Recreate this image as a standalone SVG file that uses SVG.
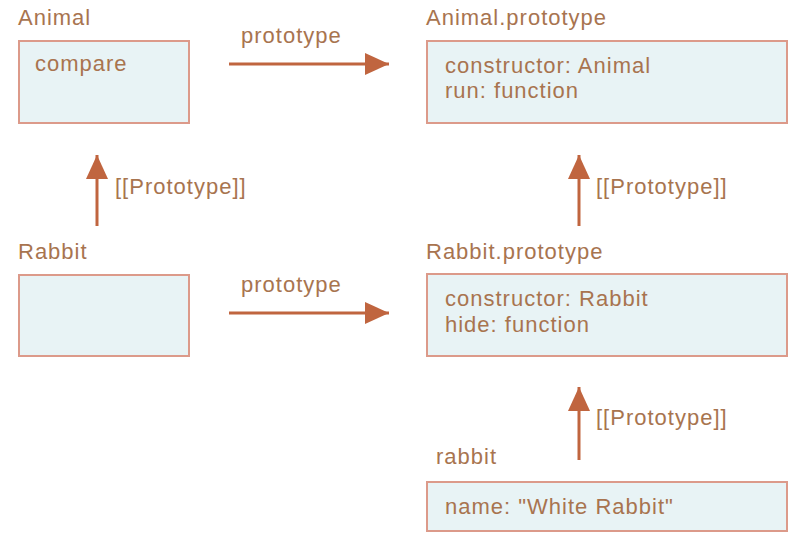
<svg xmlns="http://www.w3.org/2000/svg" width="800" height="549" viewBox="0 0 800 549">
<style>
.box{fill:#e8f3f5;stroke:#dc9a8a;stroke-width:2}
.t{font-family:"Liberation Sans",Arial,sans-serif;font-size:22px;letter-spacing:1px;fill:#a8744f}
.c{stroke:#c0653f;stroke-width:3;fill:none}
</style>
<defs>
<marker id="a" viewBox="0 0 24 22" refX="24" refY="11" markerWidth="24" markerHeight="22" markerUnits="userSpaceOnUse" orient="auto">
<path d="M0,0 L24,11 L0,22 z" fill="#c0653f"/>
</marker>
</defs>
<rect width="800" height="549" fill="#ffffff"/>
<g id="animal">
<text class="t" x="18" y="25">Animal</text>
<rect class="box" x="19" y="41" width="170" height="82"/>
<text class="t" x="35" y="71">compare</text>
</g>
<g id="animal-prototype">
<text class="t" x="426" y="25">Animal.prototype</text>
<rect class="box" x="427" y="41" width="360" height="82"/>
<text class="t" x="445" y="73">constructor: Animal</text>
<text class="t" x="445" y="98">run: function</text>
</g>
<g id="rabbit-ctor">
<text class="t" x="18" y="259">Rabbit</text>
<rect class="box" x="19" y="275" width="170" height="81"/>
</g>
<g id="rabbit-prototype">
<text class="t" x="426" y="259">Rabbit.prototype</text>
<rect class="box" x="427" y="274" width="360" height="82"/>
<text class="t" x="445" y="306">constructor: Rabbit</text>
<text class="t" x="445" y="332">hide: function</text>
</g>
<g id="rabbit">
<text class="t" x="436" y="464">rabbit</text>
<rect class="box" x="427" y="482" width="360" height="49"/>
<text class="t" x="445" y="514">name: "White Rabbit"</text>
</g>
<g id="connectors">
<line class="c" x1="229" y1="64" x2="389" y2="64" marker-end="url(#a)"/>
<text class="t" x="241" y="43">prototype</text>
<line class="c" x1="229" y1="313" x2="389" y2="313" marker-end="url(#a)"/>
<text class="t" x="241" y="292">prototype</text>
<line class="c" x1="97" y1="226" x2="97" y2="155" marker-end="url(#a)"/>
<text class="t" x="115" y="194">[[Prototype]]</text>
<line class="c" x1="579" y1="226" x2="579" y2="155" marker-end="url(#a)"/>
<text class="t" x="596" y="194">[[Prototype]]</text>
<line class="c" x1="579" y1="460" x2="579" y2="387" marker-end="url(#a)"/>
<text class="t" x="596" y="425">[[Prototype]]</text>
</g>
</svg>
